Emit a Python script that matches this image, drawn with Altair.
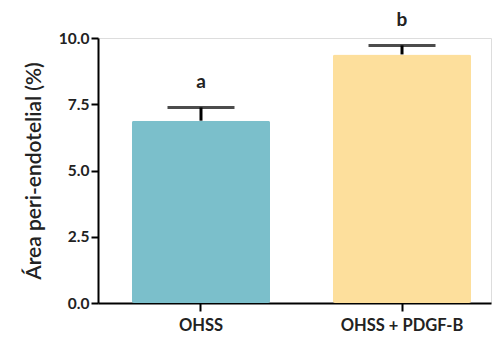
import altair as alt
import pandas as pd

groups = ["OHSS", "OHSS + PDGF-B"]
means = [6.88, 9.38]
sems = [0.50, 0.34]
letters = ["a", "b"]
colors = ["#7BBFCB", "#FDDF9C"]

df = pd.DataFrame({"group": groups, "mean": means, "sem": sems, "letter": letters})
df["upper"] = df["mean"] + df["sem"]

FONT = "Lato"

x = alt.X("group:N", sort=groups,
          scale=alt.Scale(paddingInner=0.313, paddingOuter=0.134, align=0.63),
          axis=alt.Axis(title=None, labelAngle=0, labelFont=FONT, labelFontSize=16.5,
                        labelFontWeight="bold", labelColor="#222", tickSize=8,
                        tickWidth=2, tickColor="black", domainWidth=2,
                        domainColor="black", labelPadding=6))

bars = alt.Chart(df).mark_bar(cornerRadius=2).encode(
    x=x,
    y=alt.Y("mean:Q", scale=alt.Scale(domain=[0, 10], nice=False),
            axis=alt.Axis(title="Área peri-endotelial (%)", values=[0, 2.5, 5, 7.5, 10],
                          format=".1f", titleFont=FONT, titleFontSize=21,
                          titleFontWeight=600, titleColor="#222", titlePadding=14,
                          labelFont=FONT, labelFontSize=15.5, labelFontWeight="bold",
                          labelColor="#222", tickSize=7, tickWidth=2, tickColor="black",
                          domainWidth=2, domainColor="black", grid=False, labelPadding=2)),
    color=alt.Color("group:N", scale=alt.Scale(domain=groups, range=colors), legend=None),
)

stems = alt.Chart(df).mark_rule(color="black", strokeWidth=3).encode(
    x=alt.X("group:N", sort=groups), y="mean:Q", y2="upper:Q")

caps = alt.Chart(df).mark_tick(color="black", thickness=3, size=67, orient="horizontal").encode(
    x=alt.X("group:N", sort=groups), y="upper:Q")

labels = alt.Chart(df).mark_text(font=FONT, fontSize=19, fontWeight="bold", color="#222",
                                 baseline="alphabetic", dy=-19, clip=False).encode(
    x=alt.X("group:N", sort=groups), y="upper:Q", text="letter:N")

chart = (bars + stems + caps + labels).properties(
    width=393, height=265,
    autosize=alt.AutoSizeParams(type="none"),
    padding={"left": 98, "top": 38, "right": 5, "bottom": 37},
).configure_view(stroke=None).configure(background="white")

chart.save("out.html", embed_options={"renderer": "svg", "actions": False})
